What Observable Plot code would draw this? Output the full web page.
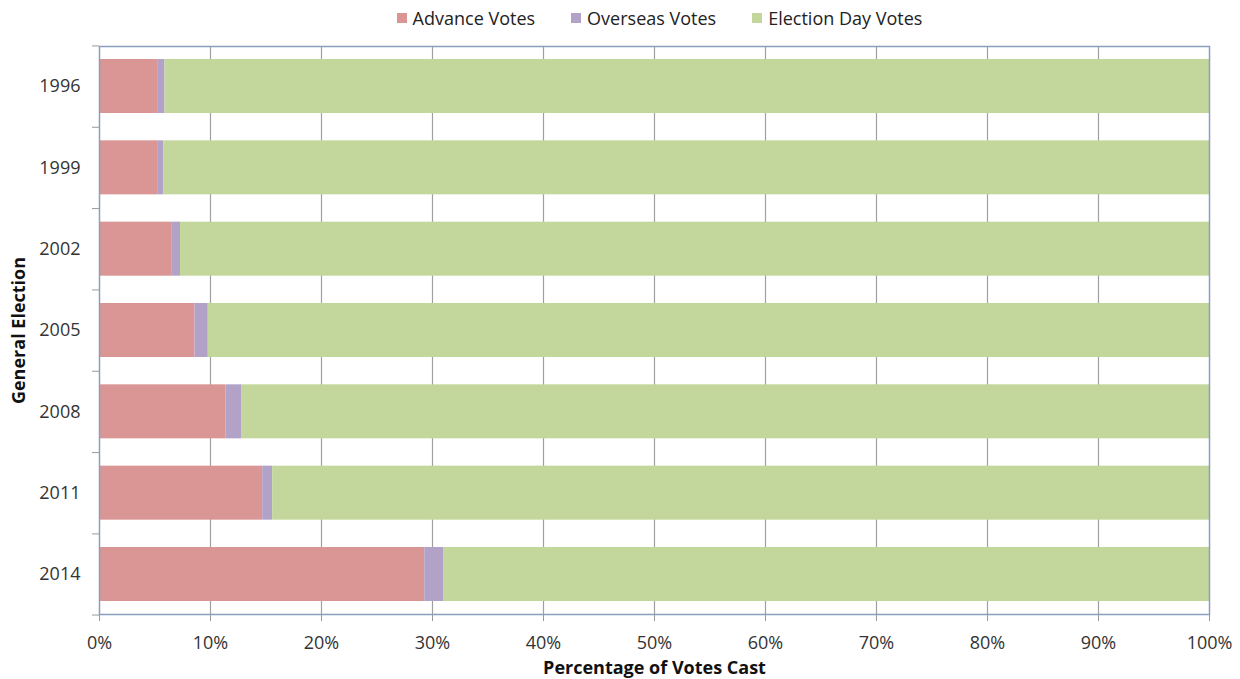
<!DOCTYPE html>
<html>
<head>
<meta charset="utf-8">
<script src="https://cdn.jsdelivr.net/npm/d3@7"></script>
<script src="https://cdn.jsdelivr.net/npm/@observablehq/plot@0.6"></script>
<style>
  body { margin: 0; background: #fff; font-family: "Open Sans", sans-serif; }
  #wrap { position: relative; width: 1240px; height: 679px; }
  #legend { position: absolute; left: 0; top: 0; width: 1240px; height: 36px; display: flex; justify-content: center; align-items: center; font-size: 18px; color: #222; padding-left: 79px; box-sizing: border-box; }
  #legend .item { display: flex; align-items: center; margin: 0 18px; }
  #legend .sw { width: 10px; height: 10px; margin-right: 6px; }
  #chart { position: absolute; left: 0; top: 0; }
  g[aria-label="x-axis label"] text, g[aria-label="y-axis label"] text { font-weight: bold; font-size: 18px; fill: #111; }
</style>
</head>
<body>
<div id="wrap">
<div id="chart"></div>
<div id="legend"></div>
</div>
<script>
const years = ["1996", "1999", "2002", "2005", "2008", "2011", "2014"];
const advanceVotes = [5.3, 5.3, 6.5, 8.6, 11.4, 14.7, 29.3];
const overseasVotes = [0.6, 0.5, 0.8, 1.2, 1.4, 0.9, 1.7];
const electionDayVotes = [94.1, 94.2, 92.7, 90.2, 87.2, 84.4, 69.0];
const seriesNames = ["Advance Votes", "Overseas Votes", "Election Day Votes"];
const seriesColors = ["#D99694", "#B2A2C7", "#C3D69B"];
const xTicks = [0, 10, 20, 30, 40, 50, 60, 70, 80, 90, 100];

const seriesValues = [advanceVotes, overseasVotes, electionDayVotes];
const rows = [];
years.forEach((y, i) => {
  seriesNames.forEach((s, j) => rows.push({year: y, series: s, value: seriesValues[j][i]}));
});

// legend
const legend = document.getElementById("legend");
seriesNames.forEach((s, j) => {
  const it = document.createElement("div");
  it.className = "item";
  it.innerHTML = `<div class="sw" style="background:${seriesColors[j]}"></div><span>${s}</span>`;
  legend.appendChild(it);
});

const W = 1240, H = 679;
const mTop = 46, mBottom = 65, mLeft = 99, mRight = 31;
const step = (H - mTop - mBottom) / years.length;

const chart = Plot.plot({
  width: W,
  height: H,
  marginTop: mTop,
  marginBottom: mBottom,
  marginLeft: mLeft,
  marginRight: mRight,
  style: {fontFamily: "'Open Sans', sans-serif", fontSize: "18px", color: "#333", background: "#fff"},
  x: {domain: [0, 100]},
  y: {domain: years, paddingInner: 0.336, paddingOuter: 0.16, round: false},
  color: {domain: seriesNames, range: seriesColors},
  marks: [
    Plot.ruleX(xTicks.slice(1, -1), {stroke: "#A0A0A0", strokeWidth: 1.2}),
    Plot.barX(rows, Plot.stackX({y: "year", x: "value", fill: "series", order: seriesNames})),
    Plot.ruleY(years, {y: d => d, x1: 0, x2: 0, insetLeft: -7, dy: -step / 2, stroke: "#999"}),
    Plot.ruleY(years.slice(-1), {y: d => d, x1: 0, x2: 0, insetLeft: -7, dy: step / 2, stroke: "#999"}),
    Plot.axisX({ticks: xTicks, tickFormat: d => d + "%", tickSize: 7, tickPadding: 15, stroke: "#999",
      label: "Percentage of Votes Cast", labelAnchor: "center", labelArrow: "none", labelOffset: 59}),
    Plot.axisY({tickSize: 0, tickPadding: 19, label: "General Election", labelAnchor: "center", labelArrow: "none", labelOffset: 87}),
    Plot.frame({stroke: "#8A9FC0", strokeWidth: 1.5})
  ]
});
document.getElementById("chart").appendChild(chart);
</script>
</body>
</html>
